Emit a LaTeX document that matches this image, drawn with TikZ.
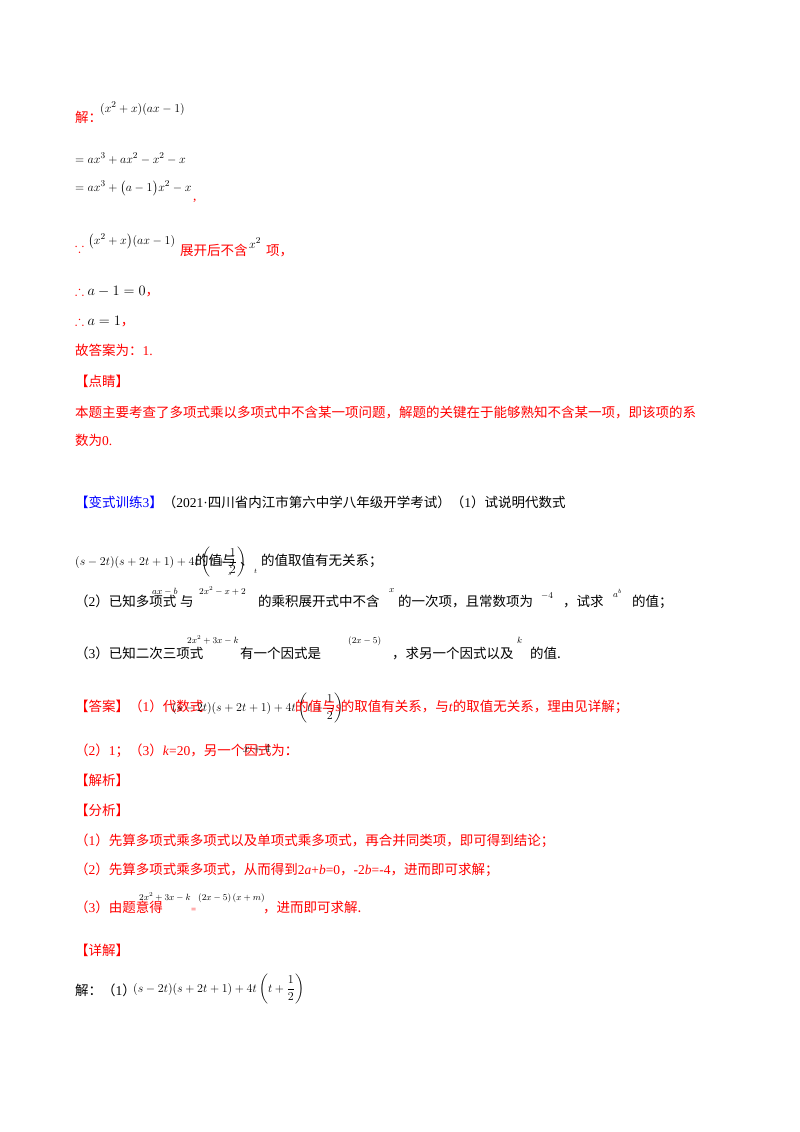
\documentclass[tikz,border=0pt]{standalone}
\usepackage{amsmath,amssymb}
\usepackage{fontspec}
\setmainfont{Liberation Serif}
\newfontfamily\cjk{Noto Sans CJK SC}
\newcommand{\zh}[1]{{\cjk #1}}
\definecolor{rd}{RGB}{255,0,0}
\definecolor{bl}{RGB}{0,0,255}
\begin{document}
\begin{tikzpicture}[x=1pt,y=-1pt,
  t/.style={anchor=base west,inner sep=0pt,font=\fontsize{13.5}{16}\selectfont},
  r/.style={t,text=rd},
  m/.style={t,font=\fontsize{12.5}{15}\selectfont}]
\useasboundingbox[fill=white] (0,0) rectangle (800,1132);
\node[r] (l1) at (75,122) {\zh{解：}};
\node[m] (l1m) at (100,112) {$(x^2+x)(ax-1)$};
\node[m] (l2) at (75,163) {$=ax^3+ax^2-x^2-x$};
\node[m] (l3) at (75,191) {$=ax^3+\bigl(a-1\bigr)x^2-x$};
\node[r] (l3c) at (193,200) {,};
\node[r] (l4a) at (75,252) {$\because$};
\node[m] (l4m) at (88,244) {$\bigl(x^2+x\bigr)(ax-1)$};
\node[r] (l4b) at (180,255) {\zh{展开后不含}};
\node[m] (l4x) at (249,248) {$x^2$};
\node[r] (l4c) at (266,255) {\zh{项，}};
\node[r] (l5) at (75,295) {$\therefore$ \textcolor{black}{$a-1=0$}\zh{，}};
\node[r] (l6) at (75,325) {$\therefore$ \textcolor{black}{$a=1$}\zh{，}};
\node[r] (l7) at (75,355) {\zh{故答案为：}1.};
\node[r] (l8) at (75,386) {\zh{【点睛】}};
\node[r] (l9) at (75,417) {\zh{本题主要考查了多项式乘以多项式中不含某一项问题，解题的关键在于能够熟知不含某一项，即该项的系}};
\node[r] (l10) at (75,445) {\zh{数为}0.};
\node[t] (b1) at (75,507) {\textcolor{bl}{\zh{【变式训练}3\zh{】}}\zh{（}2021·\zh{四川省内江市第六中学八年级开学考试）（}1\zh{）试说明代数式}};
\node[m] (b2m) at (75,565) {$(s-2t)(s+2t+1)+4t\left(t+\dfrac12\right)$};
\node[t] (b2t) at (195,565) {\zh{的值与}};
\node[m] (b2s) at (228,575) {\scriptsize$s$};
\node[t] (b2d) at (240,565) {\zh{、}};
\node[m] (b2tt) at (254,573) {\scriptsize$t$};
\node[t] (b2e) at (261,565) {\zh{的值取值有无关系；}};
\node[t] (c1) at (75,606) {\zh{（}2\zh{）已知多项式}};
\node[m] (c1m) at (152,594) {\small$ax-b$};
\node[t] (c1b) at (180,606) {\zh{与}};
\node[m] (c1n) at (199,594) {\small$2x^2-x+2$};
\node[t] (c1c) at (258,606) {\zh{的乘积展开式中不含}};
\node[m] (c1x) at (389,592) {\small$x$};
\node[t] (c1d) at (398,606) {\zh{的一次项，且常数项为}};
\node[m] (c1f) at (541,598) {\small$-4$};
\node[t] (c1g) at (563,606) {\zh{，试求}};
\node[m] (c1h) at (613,597) {\small$a^b$};
\node[t] (c1i) at (632,606) {\zh{的值；}};
\node[t] (d1) at (75,658) {\zh{（}3\zh{）已知二次三项式}};
\node[m] (d1m) at (187,643) {\small$2x^2+3x-k$};
\node[t] (d1b) at (240,658) {\zh{有一个因式是}};
\node[m] (d1n) at (348,643) {\small$(2x-5)$};
\node[t] (d1c) at (392,658) {\zh{，求另一个因式以及}};
\node[m] (d1k) at (517,643) {\small$k$};
\node[t] (d1d) at (530,658) {\zh{的值.}};
\node[r] (e1) at (75,711) {\zh{【答案】（}1\zh{）代数式}};
\node[m] (e1m) at (172,711) {$(s-2t)(s+2t+1)+4t\left(t+\dfrac12\right)$};
\node[r] (e1b) at (295,711) {\zh{的值与}\textit{s}\zh{的取值有关系，与}\textit{t}\zh{的取值无关系，理由见详解；}};
\node[r] (e2) at (75,755) {\zh{（}2\zh{）}1\zh{；（}3\zh{）}\textit{k}=20\zh{，另一个因式为：}};
\node[m] (e2m) at (243,752) {$x+4$};
\node[r] (e2c) at (286,755) {.};
\node[r] (f1) at (75,785) {\zh{【解析】}};
\node[r] (f2) at (75,815) {\zh{【分析】}};
\node[r] (f3) at (75,845) {\zh{（}1\zh{）先算多项式乘多项式以及单项式乘多项式，再合并同类项，即可得到结论；}};
\node[r] (f4) at (75,874) {\zh{（}2\zh{）先算多项式乘多项式，从而得到}2\textit{a}+\textit{b}=0\zh{，}-2\textit{b}=-4\zh{，进而即可求解；}};
\node[r] (f5) at (75,912) {\zh{（}3\zh{）由题意得}};
\node[m] (f5m) at (139,900) {\small$2x^2+3x-k$};
\node[r] (f5e) at (191,912) {\small=};
\node[m] (f5n) at (198,900) {\small$(2x-5)\,(x+m)$};
\node[r] (f5c) at (263,912) {\zh{，进而即可求解.}};
\node[r] (g1) at (75,955) {\zh{【详解】}};
\node[t] (g2) at (75,995) {\zh{解：（}1\zh{）}};
\node[m] (g2m) at (133,992) {$(s-2t)(s+2t+1)+4t\left(t+\dfrac12\right)$};
\end{tikzpicture}
\end{document}
